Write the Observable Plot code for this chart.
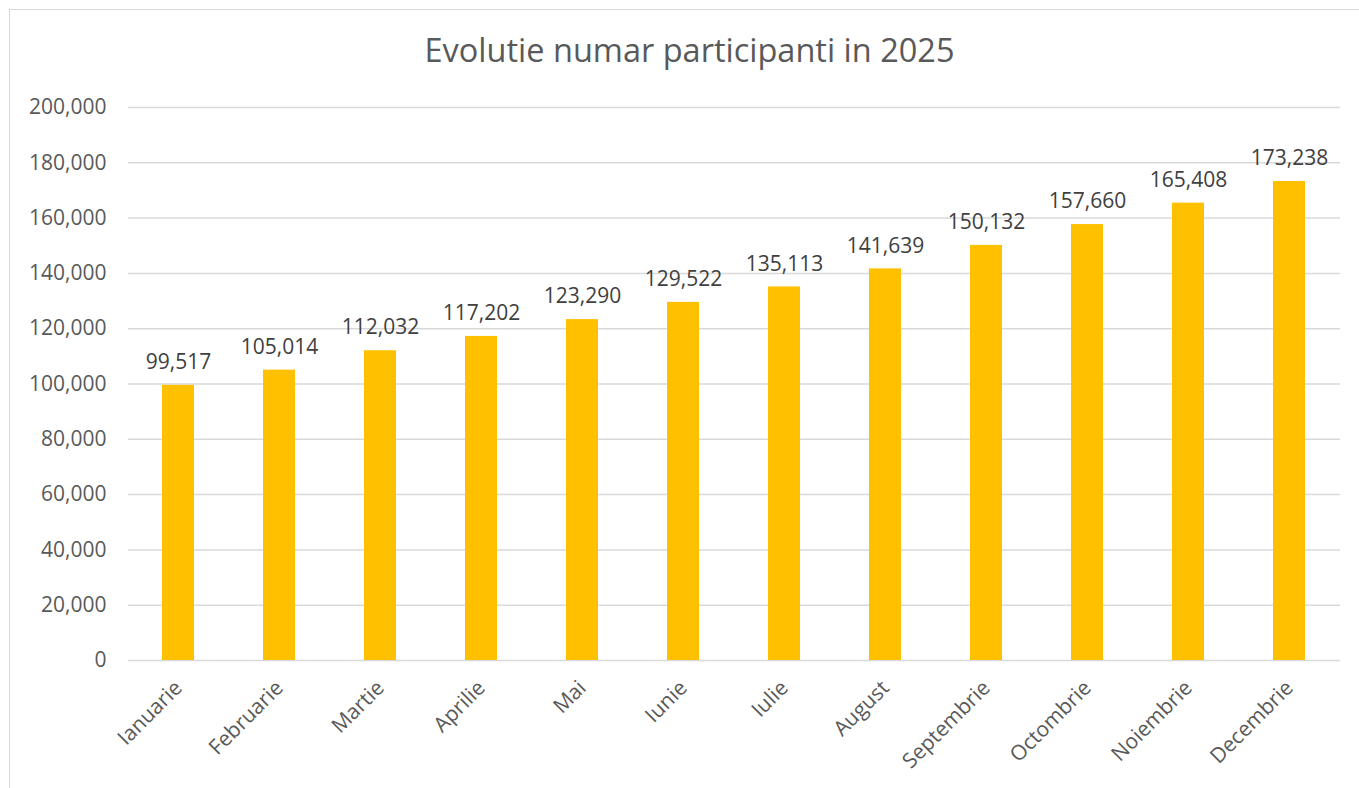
<!DOCTYPE html>
<html>
<head>
<meta charset="utf-8">
<script src="https://cdn.jsdelivr.net/npm/d3@7"></script>
<script src="https://cdn.jsdelivr.net/npm/@observablehq/plot@0.6"></script>
<style>
  html, body { margin: 0; padding: 0; background: #fff; }
  body { width: 1359px; height: 788px; overflow: hidden; position: relative; font-family: "Open Sans", sans-serif; }
  #frame { position: absolute; left: 9px; top: 9px; width: 1360px; height: 790px; border: 1.5px solid #d9d9d9; box-sizing: border-box; pointer-events: none; }
  #title { position: absolute; left: 0; top: 27px; width: 1379px; text-align: center; font-size: 32.5px; color: #595959; line-height: 46px; }
  #chart { position: absolute; left: 0; top: 80px; }
</style>
</head>
<body>
<div id="frame"></div>
<div id="title">Evolutie numar participanti in 2025</div>
<div id="chart"></div>
<script>
const months = ["Ianuarie","Februarie","Martie","Aprilie","Mai","Iunie","Iulie","August","Septembrie","Octombrie","Noiembrie","Decembrie"];
const participants = [99517,105014,112032,117202,123290,129522,135113,141639,150132,157660,165408,173238];
const yTicks = [0,20000,40000,60000,80000,100000,120000,140000,160000,180000,200000];

const data = months.map((m, i) => ({month: m, value: participants[i]}));
const fmt = d3.format(",");

const chart = Plot.plot({
  width: 1359,
  height: 708,
  marginLeft: 128,
  marginRight: 19,
  marginTop: 27,
  marginBottom: 128,
  style: {fontFamily: "Open Sans, sans-serif", fontSize: "21px", color: "#595959", background: "transparent"},
  x: {domain: months, paddingInner: 0.68, paddingOuter: 0.34, label: null},
  y: {domain: [0, 200000], label: null},
  marks: [
    Plot.gridY(yTicks, {stroke: "#d9d9d9", strokeOpacity: 1, strokeWidth: 1.5}),
    Plot.barY(data, {x: "month", y: "value", fill: "#FFC000"}),
    Plot.text(data, {x: "month", y: "value", text: d => fmt(d.value), dy: -23, fill: "#404040", fontSize: 21}),
    Plot.axisY(yTicks, {tickSize: 0, tickPadding: 22, tickFormat: fmt, fill: "#595959", fontSize: 21, label: null}),
    Plot.axisX({tickSize: 0, tickRotate: -45, tickPadding: 24, fill: "#595959", fontSize: 21, label: null})
  ]
});
document.getElementById("chart").appendChild(chart);
</script>
</body>
</html>
